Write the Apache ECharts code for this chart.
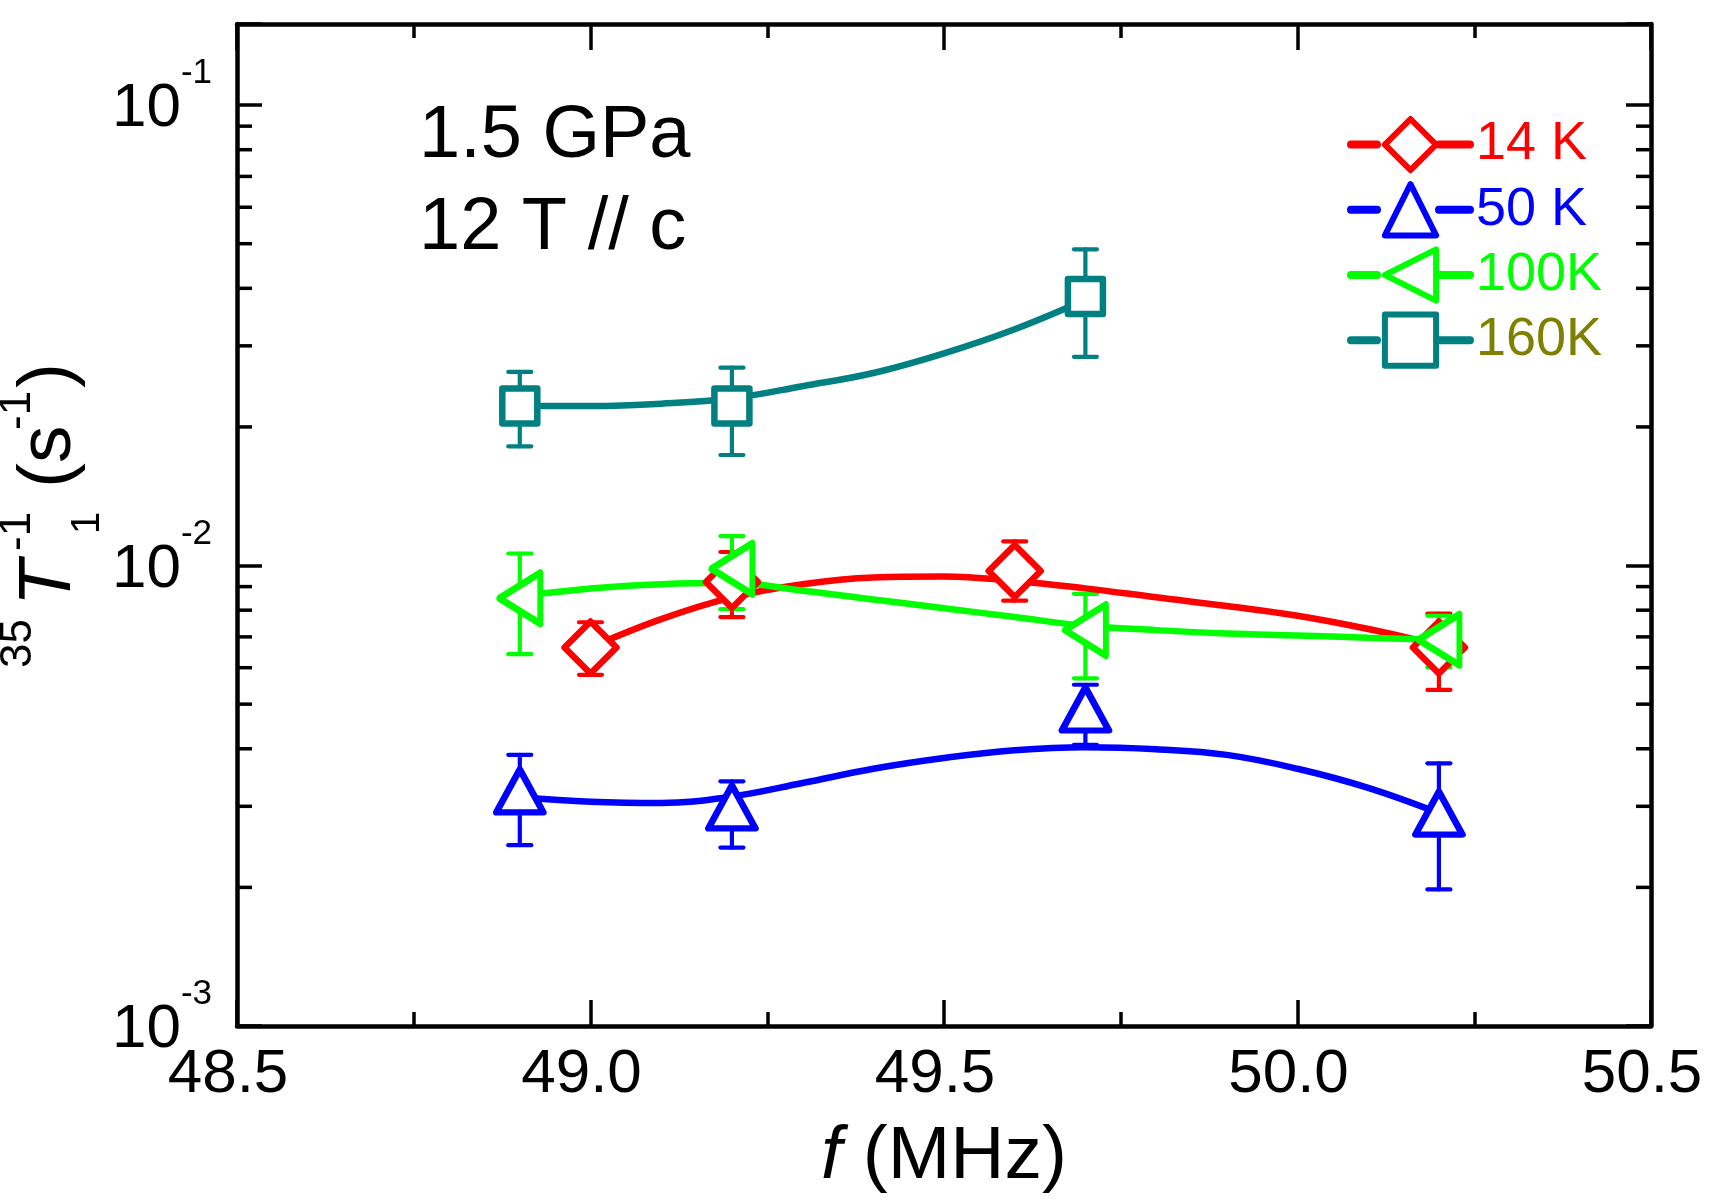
<!DOCTYPE html>
<html>
<head>
<meta charset="utf-8">
<title>T1 vs f</title>
<script src="https://cdn.jsdelivr.net/npm/echarts@6/dist/echarts.min.js"></script>
<style>
    html, body { margin: 0; padding: 0; background: #fff; }
    #chart_main { width: 1711px; height: 1200px; }
</style>
</head>
<body>
<div id="chart_main"></div>
<script>
// axis ranges / ticks
var freqMin = 48.5, freqMax = 50.5, freqStep = 0.5;
var rateMin = 0.001, rateMax = 0.15;
var rateMinorTicks = [0.002, 0.003, 0.004, 0.005, 0.006, 0.007, 0.008, 0.009,
    0.02, 0.03, 0.04, 0.05, 0.06, 0.07, 0.08, 0.09];

// legend names
var names = ['14 K', '50 K', '100K', '160K'];

// 14 K data points + error bars
var f14 = [49.0, 49.2, 49.6, 50.2];
var r14 = [0.00664, 0.00921, 0.00973, 0.00664];
var r14Lo = [0.00579, 0.00773, 0.00839, 0.00537];
var r14Hi = [0.00753, 0.0107, 0.01128, 0.00786];
// 14 K guide curve
var fit14F = [49.0, 49.1, 49.2, 49.3, 49.4, 49.5, 49.6, 49.7, 49.8, 49.9, 50.0, 50.1, 50.2];
var fit14 = [0.00664, 0.00765, 0.00853, 0.00911, 0.00942, 0.00947, 0.00926, 0.00892, 0.00853, 0.00817, 0.00778, 0.00728, 0.00671];

// 50 K
var f50 = [48.9, 49.2, 49.7, 50.2];
var r50 = [0.00324, 0.00299, 0.00488, 0.00290];
var r50Lo = [0.00247, 0.00244, 0.00408, 0.00198];
var r50Hi = [0.00388, 0.00340, 0.00551, 0.00372];
var fit50F = [48.9, 49.0, 49.1, 49.2, 49.3, 49.4, 49.5, 49.6, 49.7, 49.8, 49.9, 50.0, 50.1, 50.2];
var fit50 = [0.00314, 0.00307, 0.00305, 0.00315, 0.00337, 0.00362, 0.00382, 0.00397, 0.00403, 0.00399, 0.00388, 0.00362, 0.00329, 0.00290];

// 100K
var f100 = [48.9, 49.2, 49.7, 50.2];
var r100 = [0.00849, 0.00984, 0.00724, 0.00690];
var r100Lo = [0.00642, 0.00804, 0.00569, 0.00601];
var r100Hi = [0.01062, 0.01159, 0.00868, 0.00778];
var fit100F = [48.9, 49.0, 49.1, 49.2, 49.3, 49.4, 49.5, 49.6, 49.7, 49.8, 49.9, 50.0, 50.1, 50.2];
var fit100 = [0.00858, 0.00892, 0.00911, 0.00916, 0.00882, 0.00844, 0.00808, 0.00773, 0.00740, 0.00724, 0.00712, 0.00705, 0.00697, 0.00690];

// 160K
var f160 = [48.9, 49.2, 49.7];
var r160 = [0.0222, 0.0222, 0.0384];
var r160Lo = [0.01815, 0.01738, 0.0284];
var r160Hi = [0.02633, 0.0269, 0.0486];
var fit160F = [48.9, 49.0, 49.1, 49.2, 49.3, 49.4, 49.5, 49.6, 49.7];
var fit160 = [0.0222, 0.0222, 0.02246, 0.02308, 0.02452, 0.02619, 0.02889, 0.03259, 0.03777];

var colors = ['#ff0000', '#0000ff', '#00ff00', '#008080'];
var textColors = ['#ff0000', '#0000ff', '#00ff00', '#808000'];
var FONT = 'Liberation Sans';

window.CHART = {
    init: function() {
        var myChart = echarts.init(document.getElementById('chart_main'));
        myChart.setOption(CHART.buildOption());
    },

    zip: function(xs, ys) {
        return xs.map(function(x, i) { return [x, ys[i]]; });
    },

    zip3: function(xs, lo, hi) {
        return xs.map(function(x, i) { return [x, lo[i], hi[i]]; });
    },

    errSeries: function(color, xs, lo, hi) {
        return {
            type: 'custom',
            z: 2,
            silent: true,
            encode: { x: 0, y: [1, 2] },
            data: CHART.zip3(xs, lo, hi),
            renderItem: function(params, api) {
                var x = api.value(0);
                var p1 = api.coord([x, api.value(1)]);
                var p2 = api.coord([x, api.value(2)]);
                var cap = 11.5;
                var st = { stroke: color, lineWidth: 4.2, lineCap: 'round' };
                return {
                    type: 'group',
                    children: [
                        { type: 'line', shape: { x1: p1[0], y1: p1[1], x2: p2[0], y2: p2[1] }, style: st },
                        { type: 'line', shape: { x1: p1[0] - cap, y1: p1[1], x2: p1[0] + cap, y2: p1[1] }, style: st },
                        { type: 'line', shape: { x1: p2[0] - cap, y1: p2[1], x2: p2[0] + cap, y2: p2[1] }, style: st }
                    ]
                };
            }
        };
    },

    fitSeries: function(color, xs, ys) {
        return {
            type: 'line',
            name: 'fit',
            z: 3,
            smooth: 0.4,
            showSymbol: false,
            silent: true,
            lineStyle: { color: color, width: 6.5, cap: 'round' },
            data: CHART.zip(xs, ys)
        };
    },

    pointSeries: function(name, color, symbol, size, rotate, xs, ys) {
        return {
            type: 'line',
            name: name,
            z: 4,
            symbol: symbol,
            symbolSize: size,
            symbolRotate: rotate,
            showSymbol: true,
            lineStyle: { width: 0, color: color },
            itemStyle: { color: '#ffffff', borderColor: color, borderWidth: 6.5, borderJoin: 'round' },
            data: CHART.zip(xs, ys)
        };
    },

    buildOption: function() {
        var xAxisBase = {
            type: 'value',
            min: freqMin,
            max: freqMax,
            interval: freqStep,
            splitLine: { show: false },
            axisLine: { show: true, onZero: false, lineStyle: { color: '#000', width: 4.5 } },
            axisTick: { show: true, inside: true, length: 26, lineStyle: { color: '#000', width: 3.5 } },
            minorTick: { show: true, splitNumber: 2, length: 14, lineStyle: { color: '#000', width: 3.5 } }
        };
        var yAxisBase = {
            type: 'log',
            logBase: 10,
            min: rateMin,
            max: rateMax,
            splitLine: { show: false },
            axisLine: { show: true, onZero: false, lineStyle: { color: '#000', width: 4.5 } },
            axisTick: { show: true, inside: true, length: 25, lineStyle: { color: '#000', width: 3.5 } }
        };

        var series = [
            CHART.errSeries(colors[0], f14, r14Lo, r14Hi),
            CHART.errSeries(colors[1], f50, r50Lo, r50Hi),
            CHART.errSeries(colors[2], f100, r100Lo, r100Hi),
            CHART.errSeries(colors[3], f160, r160Lo, r160Hi),
            CHART.fitSeries(colors[0], fit14F, fit14),
            CHART.fitSeries(colors[1], fit50F, fit50),
            CHART.fitSeries(colors[2], fit100F, fit100),
            CHART.fitSeries(colors[3], fit160F, fit160),
            CHART.pointSeries(names[0], colors[0], 'diamond', 52, 0, f14, r14),
            CHART.pointSeries(names[1], colors[1], 'triangle', [47, 43], 0, f50, r50),
            CHART.pointSeries(names[2], colors[2], 'triangle', [51, 41], 90, f100, r100),
            CHART.pointSeries(names[3], colors[3], 'rect', 35, 0, f160, r160),
            {
                // minor ticks of the log axis at 2..9 x 10^n, both sides
                type: 'custom',
                silent: true,
                z: 1,
                encode: { x: 0, y: 1 },
                data: rateMinorTicks.map(function(v) { return [freqMin, v]; }),
                renderItem: function(params, api) {
                    var v = api.value(1);
                    var pl = api.coord([freqMin, v]);
                    var pr = api.coord([freqMax, v]);
                    var st = { stroke: '#000', lineWidth: 3.5 };
                    return {
                        type: 'group',
                        children: [
                            { type: 'line', shape: { x1: pl[0], y1: pl[1], x2: pl[0] + 15, y2: pl[1] }, style: st },
                            { type: 'line', shape: { x1: pr[0], y1: pr[1], x2: pr[0] - 15, y2: pr[1] }, style: st }
                        ]
                    };
                }
            }
        ];

        return {
            animation: false,
            backgroundColor: '#ffffff',
            textStyle: { fontFamily: FONT },
            grid: { left: 237, right: 60, top: 24, bottom: 174, containLabel: false },
            legend: {
                orient: 'vertical',
                left: 1342,
                top: 111,
                itemWidth: 119,
                itemHeight: 64,
                itemGap: 8,
                selectedMode: false,
                lineStyle: { width: 8, cap: 'round', type: [26, 62, 31] },
                itemStyle: { borderWidth: 6 },
                textStyle: { fontSize: 54, fontFamily: FONT, padding: [0, 0, 0, 1] },
                data: names.map(function(n, i) {
                    return { name: n, textStyle: { color: textColors[i] } };
                })
            },
            xAxis: [
                Object.assign({}, xAxisBase, {
                    position: 'bottom',
                    axisLabel: {
                        show: true,
                        color: '#000',
                        fontSize: 62,
                        fontFamily: FONT,
                        margin: 18,
                        padding: [0, 18, 0, 0],
                        formatter: function(v) { return v.toFixed(1); }
                    }
                }),
                Object.assign({}, xAxisBase, { position: 'top', axisLabel: { show: false } })
            ],
            yAxis: [
                Object.assign({}, yAxisBase, {
                    position: 'left',
                    axisLabel: {
                        show: true,
                        color: '#000',
                        margin: 25,
                        padding: [0, 0, 14, 0],
                        fontFamily: FONT,
                        formatter: function(v) {
                            var n = Math.log10(v);
                            if (Math.abs(n - Math.round(n)) > 1e-6) return '';
                            return '{b|10}{s|' + Math.round(n) + '}';
                        },
                        rich: {
                            b: { fontSize: 62, lineHeight: 84, verticalAlign: 'bottom', fontFamily: FONT, color: '#000' },
                            s: { fontSize: 35, lineHeight: 35, verticalAlign: 'top', fontFamily: FONT, color: '#000' }
                        }
                    }
                }),
                Object.assign({}, yAxisBase, { position: 'right', axisLabel: { show: false } })
            ],
            graphic: [
                {
                    type: 'text', x: 419, y: 137,
                    style: { text: '1.5 GPa', fontSize: 74, fontFamily: FONT, fill: '#000', align: 'left', verticalAlign: 'middle' }
                },
                {
                    type: 'text', x: 419, y: 229,
                    style: { text: '12 T // c', fontSize: 74, fontFamily: FONT, fill: '#000', align: 'left', verticalAlign: 'middle' }
                },
                {
                    type: 'text', x: 944, y: 1157,
                    style: {
                        text: '{i|f} (MHz)', fontSize: 75, fontFamily: FONT, fill: '#000',
                        align: 'center', verticalAlign: 'middle',
                        rich: { i: { fontSize: 75, fontFamily: FONT, fontStyle: 'italic', fill: '#000' } }
                    }
                },
                {
                    // y axis title, rotated: 35T1^-1 (s^-1)
                    type: 'group', x: 72, y: 668, rotation: Math.PI / 2,
                    children: [
                        { type: 'text', x: 0, y: -53, style: { text: '35', fontSize: 44, fontFamily: FONT, fill: '#000', align: 'left', verticalAlign: 'middle' } },
                        { type: 'text', x: 62, y: -23, style: { text: 'T', fontSize: 75, fontStyle: 'italic', fontFamily: FONT, fill: '#000', align: 'left', verticalAlign: 'middle' } },
                        { type: 'text', x: 117, y: -54, style: { text: '-1', fontSize: 44, fontFamily: FONT, fill: '#000', align: 'left', verticalAlign: 'middle' } },
                        { type: 'text', x: 134, y: 16, style: { text: '1', fontSize: 40, fontFamily: FONT, fill: '#000', align: 'left', verticalAlign: 'middle' } },
                        { type: 'text', x: 180, y: -23, style: { text: '(s', fontSize: 75, fontFamily: FONT, fill: '#000', align: 'left', verticalAlign: 'middle' } },
                        { type: 'text', x: 238, y: -54, style: { text: '-1', fontSize: 44, fontFamily: FONT, fill: '#000', align: 'left', verticalAlign: 'middle' } },
                        { type: 'text', x: 280, y: -23, style: { text: ')', fontSize: 75, fontFamily: FONT, fill: '#000', align: 'left', verticalAlign: 'middle' } }
                    ]
                }
            ],
            series: series
        };
    }
};

CHART.init();
</script>
</body>
</html>
